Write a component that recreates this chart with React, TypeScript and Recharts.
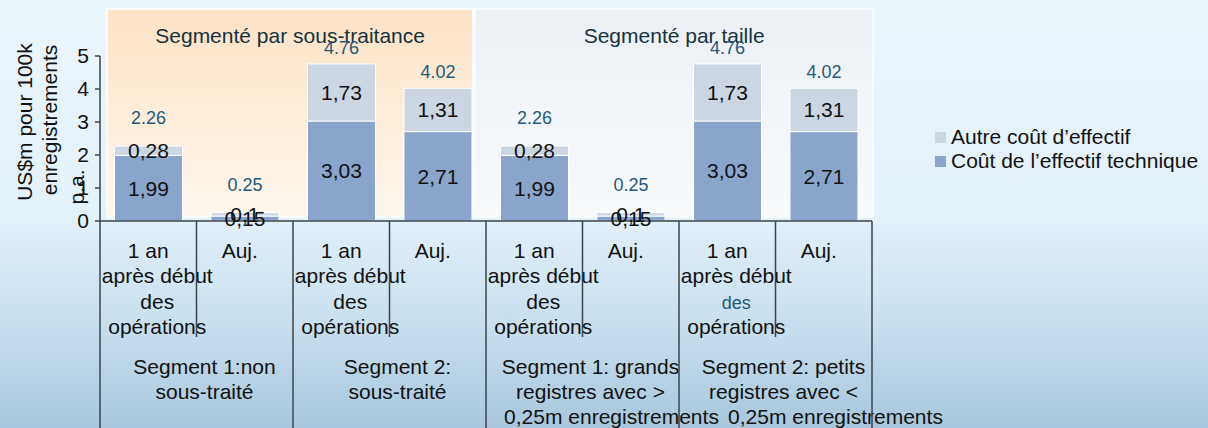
import { Bar, BarChart, LabelList, Legend, XAxis, YAxis } from "recharts";

const categories = [
  ["1 an", "après début", "des", "opérations"],
  ["Auj."],
  ["1 an", "après début", "des", "opérations"],
  ["Auj."],
  ["1 an", "après début", "des", "opérations"],
  ["Auj."],
  ["1 an", "après début", "des", "opérations"],
  ["Auj."],
];

const groups = [
  ["Segment 1:non", "sous-traité"],
  ["Segment 2:", "sous-traité"],
  ["Segment 1: grands", "registres avec >", "0,25m enregistrements"],
  ["Segment 2: petits", "registres avec <", "0,25m enregistrements"],
];

const techCost = [1.99, 0.15, 3.03, 2.71, 1.99, 0.15, 3.03, 2.71];
const otherCost = [0.28, 0.1, 1.73, 1.31, 0.28, 0.1, 1.73, 1.31];
const totals = [2.26, 0.25, 4.76, 4.02, 2.26, 0.25, 4.76, 4.02];
const yTicks = [0, 1, 2, 3, 4, 5];

// background panels, in category-band units from the left of the plot
const panels = [
  { title: "Segmenté par sous-traitance", from: 0.06, to: 3.88, bg: "linear-gradient(to bottom, #fde3c6, #fdf6ed)" },
  { title: "Segmenté par taille", from: 3.88, to: 8.02, bg: "linear-gradient(to bottom, #ecf0f5, #f8fafc)" },
];

const data = categories.map((lines, i) => ({
  name: lines.join(" ") + " " + i,
  lines,
  tech: techCost[i],
  other: otherCost[i],
  total: totals[i],
}));

const W = 1208;
const H = 428;
const TOP = 56;
const LEFT = 100;
const RIGHT = 336;
const XAXIS_H = 207;
const AXIS_Y = H - XAXIS_H;
const BW = (W - LEFT - RIGHT) / categories.length;
const SHORT_Y = 337;
const LINE = "#3c434a";
const TEAL = "#1f5a7a";
const TEXT = "#111";
const FONT = "'Liberation Sans', Arial, sans-serif";
const DARK = "#8aa5cb";
const LIGHT = "#ccd5e2";
const WIDE_SHIFT = [0, 0, 21, 52];

const comma = (v: any) => String(v).replace(".", ",");

const renderTick = (props: any) => {
  const { x, payload } = props;
  const i = payload.index;
  const lines = data[i].lines;
  const left = x - BW / 2;
  return (
    <g>
      <line x1={left} y1={AXIS_Y} x2={left} y2={i % 2 === 0 ? H : SHORT_Y} stroke={LINE} strokeWidth={1.5} />
      {i === data.length - 1 && (
        <line x1={left + BW} y1={AXIS_Y} x2={left + BW} y2={H} stroke={LINE} strokeWidth={1.5} />
      )}
      {lines.map((t: string, k: number) => {
        const hi = i === 6 && k === 2;
        return (
          <text
            key={k}
            x={x + (lines.length === 1 ? -5 : k === 0 ? 0 : 9)}
            y={258 + k * 25.3}
            textAnchor="middle"
            fontSize={hi ? 18 : 21}
            fill={hi ? TEAL : TEXT}
          >
            {t}
          </text>
        );
      })}
      {i % 2 === 0 &&
        groups[i / 2].map((t, k) => (
          <text
            key={"g" + k}
            x={left + BW + 8 + (k === 2 ? WIDE_SHIFT[i / 2] : 0)}
            y={374 + k * 25}
            textAnchor="middle"
            fontSize={21}
            fill={TEXT}
          >
            {t}
          </text>
        ))}
    </g>
  );
};

const renderTotal = (props: any) => {
  const { x, y, width, value } = props;
  const off = value < 3 ? 22 : 10;
  return (
    <text x={Number(x) + Number(width) / 2} y={Number(y) - off} textAnchor="middle" fontSize={18} fill={TEAL}>
      {String(value)}
    </text>
  );
};

const renderYLabel = () => (
  <g fontSize={21} fill={TEXT}>
    <text transform="translate(32,122) rotate(-90)" textAnchor="middle">US$m pour 100k</text>
    <text transform="translate(57,120) rotate(-90)" textAnchor="middle">enregistrements</text>
    <text transform="translate(84,187) rotate(-90)" textAnchor="middle">p.a.</text>
  </g>
);

const legendItems = [
  { label: "Autre coût d’effectif", color: LIGHT },
  { label: "Coût de l’effectif technique", color: DARK },
];

const renderLegend = () => (
  <div style={{ fontFamily: FONT, fontSize: 21, color: TEXT }}>
    {legendItems.map((it) => (
      <div key={it.label} style={{ display: "flex", alignItems: "center", height: 24.3, whiteSpace: "nowrap" }}>
        <span style={{ display: "inline-block", width: 11, height: 11, background: it.color, marginRight: 5 }} />
        {it.label}
      </div>
    ))}
  </div>
);

export default function App() {
  return (
    <div
      style={{
        position: "absolute",
        left: 0,
        top: 0,
        width: W,
        height: H,
        fontFamily: FONT,
        background: "linear-gradient(to bottom, #ebf5fc 0%, #e3f1fa 50%, #c6dded 78%, #a8c6dc 100%)",
      }}
    >
      {panels.map((p) => (
        <div
          key={p.title}
          style={{
            position: "absolute",
            left: LEFT + p.from * BW,
            top: 8,
            width: (p.to - p.from) * BW,
            height: AXIS_Y - 3 - 8,
            boxSizing: "border-box",
            border: "2px solid #f8fbfe",
            background: p.bg,
            textAlign: "center",
            fontSize: 21,
            color: "#15323f",
            paddingTop: 15,
            lineHeight: "21px",
          }}
        >
          {p.title}
        </div>
      ))}
      <BarChart
        width={W}
        height={H}
        data={data}
        margin={{ top: TOP, right: RIGHT, bottom: 0, left: 0 }}
        barCategoryGap="15%"
        style={{ fontFamily: FONT }}
      >
        <XAxis
          dataKey="name"
          height={XAXIS_H}
          interval={0}
          tickLine={false}
          tickSize={0}
          tickMargin={0}
          tick={renderTick}
          axisLine={{ stroke: LINE, strokeWidth: 1.5 }}
        />
        <YAxis
          width={LEFT}
          domain={[0, 5]}
          ticks={yTicks}
          interval={0}
          tickSize={5}
          tickMargin={6}
          tick={{ fill: TEXT, fontSize: 21 }}
          axisLine={{ stroke: LINE, strokeWidth: 1.5 }}
          tickLine={{ stroke: LINE, strokeWidth: 1.5 }}
          label={{ content: renderYLabel }}
        />
        <Legend
          layout="vertical"
          align="center"
          verticalAlign="middle"
          content={renderLegend}
          wrapperStyle={{ left: 935, top: 125, width: 273 }}
        />
        <Bar dataKey="tech" stackId="a" fill={DARK} stroke="#fff" strokeWidth={1} name="Coût de l’effectif technique" isAnimationActive={false}>
          <LabelList dataKey="tech" position="center" formatter={comma} fill={TEXT} fontSize={21} />
        </Bar>
        <Bar dataKey="other" stackId="a" fill={LIGHT} stroke="#fff" strokeWidth={1} name="Autre coût d’effectif" isAnimationActive={false}>
          <LabelList dataKey="other" position="center" formatter={comma} fill={TEXT} fontSize={21} />
          <LabelList dataKey="total" content={renderTotal} />
        </Bar>
      </BarChart>
    </div>
  );
}
